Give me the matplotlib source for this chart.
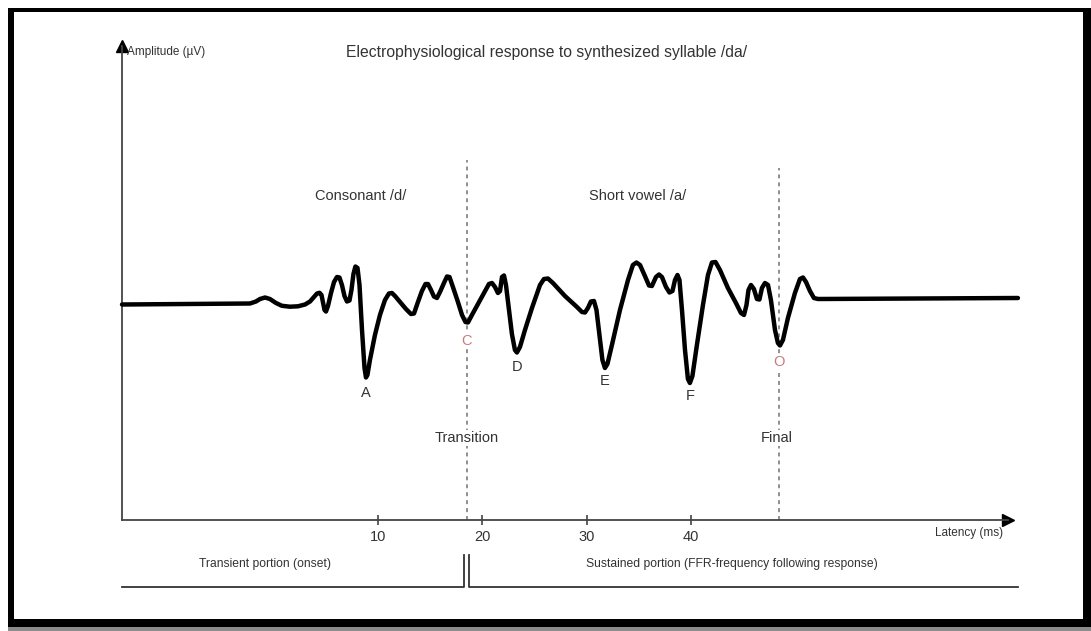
import matplotlib
matplotlib.use("Agg")
import matplotlib.pyplot as plt
from matplotlib.patches import Rectangle

plt.rcParams['font.family'] = ['Liberation Sans', 'DejaVu Sans']

# cABR waveform (latency in ms, amplitude in arbitrary uV)
latency = [-14.51, -2.25, -1.68, -1.29, -0.81, -0.34, 0.24, 0.81, 1.58, 2.35,
           3.02, 3.50, 3.88, 4.17, 4.41, 4.60, 4.74, 4.89, 5.03, 5.22,
           5.51, 5.80, 6.08, 6.32, 6.56, 6.80, 7.04, 7.28, 7.47, 7.66,
           7.85, 8.05, 8.24, 8.48, 8.72, 8.86, 9.00, 9.24, 9.72, 10.20,
           10.68, 11.06, 11.35, 11.64, 12.12, 12.69, 13.17, 13.46, 13.84, 14.22,
           14.56, 14.80, 15.09, 15.37, 15.66, 15.95, 16.33, 16.62, 16.86, 17.19,
           17.67, 18.06, 18.39, 18.63, 19.01, 19.59, 20.16, 20.64, 20.93, 21.22,
           21.50, 21.70, 21.89, 22.08, 22.27, 22.56, 22.84, 23.13, 23.32, 23.61,
           24.09, 24.76, 25.53, 25.91, 26.29, 26.77, 27.92, 29.07, 29.55, 29.84,
           30.12, 30.41, 30.70, 30.94, 31.23, 31.51, 31.75, 31.99, 32.42, 33.19,
           33.96, 34.43, 34.77, 35.11, 35.58, 35.97, 36.25, 36.64, 36.93, 37.21,
           37.60, 37.93, 38.22, 38.46, 38.70, 38.89, 39.13, 39.42, 39.70, 39.89,
           40.13, 40.56, 41.14, 41.62, 42.00, 42.34, 42.77, 43.53, 44.30, 44.78,
           45.07, 45.31, 45.50, 45.74, 46.02, 46.31, 46.55, 46.79, 47.08, 47.37,
           47.65, 48.04, 48.32, 48.52, 48.80, 49.28, 49.95, 50.43, 50.72, 51.01,
           51.39, 51.77, 52.16, 71.31]
amplitude = [-0.15, -0.05, 0.15, 0.40, 0.55, 0.40, 0.00, -0.28, -0.37, -0.33,
             -0.15, 0.15, 0.60, 0.95, 1.02, 0.80, 0.10, -0.70, -0.85, -0.30,
             1.00, 2.10, 2.60, 2.55, 1.80, 0.70, 0.15, 0.25, 1.30, 2.90,
             3.65, 3.50, 1.80, -2.70, -6.50, -7.45, -7.20, -5.70, -3.20, -1.20,
             0.30, 0.95, 1.00, 0.70, 0.10, -0.60, -1.10, -1.05, 0.10, 1.20,
             1.90, 1.90, 1.30, 0.65, 0.50, 1.10, 2.00, 2.65, 2.60, 1.60,
             0.10, -1.20, -1.90, -1.95, -1.20, -0.10, 1.00, 1.90, 2.00, 1.60,
             1.00, 1.20, 2.60, 2.75, 1.80, -0.70, -3.10, -4.70, -4.95, -4.40,
             -2.70, -0.50, 1.80, 2.40, 2.45, 2.00, 0.70, -0.40, -0.90, -0.95,
             -0.50, 0.15, 0.20, -0.70, -3.20, -5.70, -6.50, -6.10, -4.20, -0.70,
             2.30, 3.80, 4.05, 3.80, 2.70, 1.75, 1.70, 2.60, 2.85, 2.60,
             1.60, 1.05, 1.20, 2.30, 2.80, 2.30, -0.70, -4.70, -7.60, -8.00,
             -7.30, -4.20, -0.20, 2.80, 4.05, 4.10, 3.30, 1.50, 0.00, -1.00,
             -1.20, -0.20, 1.30, 1.80, 1.40, 0.40, 0.35, 1.50, 2.00, 1.80,
             0.30, -2.70, -4.00, -4.25, -3.70, -1.50, 1.00, 2.40, 2.55, 2.10,
             1.20, 0.50, 0.40, 0.50]

# labelled waves
wave_names = ['A', 'C', 'D', 'E', 'F', 'O']
wave_latency = [8.86, 18.51, 23.32, 31.75, 39.89, 48.42]
wave_colors = ['#333333', '#c87a7a', '#333333', '#333333', '#333333', '#c87a7a']
wave_drop = [11.2, 13.3, 10.4, 9.4, 9.4, 14]   # label offset below the trough (points)

xticks = [10, 20, 30, 40]
boundaries = [18.51, 48.42]   # onset -> transition, vowel -> offset
split = 18.5                  # transient / sustained split

W, H = 1091, 631
fig = plt.figure(figsize=(W / 100, H / 100), dpi=100)

# black picture frame with grey shadow
fig.patches.append(Rectangle((8 / W, 0), (W - 8) / W, 4 / H, transform=fig.transFigure,
                             facecolor='#8c8c8c', edgecolor='none', zorder=-3))
fig.patches.append(Rectangle((8 / W, 1 - 627 / H), (W - 8) / W, (627 - 8) / H,
                             transform=fig.transFigure, facecolor='black',
                             edgecolor='none', zorder=-2))
fig.patches.append(Rectangle((14 / W, 1 - 619 / H), (1083 - 14) / W, (619 - 12) / H,
                             transform=fig.transFigure, facecolor='white',
                             edgecolor='none', zorder=-1))

ax = fig.add_axes([122 / W, 1 - 520 / H, (1008 - 122) / W, (520 - 46) / H])
ax.patch.set_alpha(0)
ax.set_xlim(-14.51, 70.36)
ax.set_ylim(-21.7, 25.7)

for s in ['top', 'right']:
    ax.spines[s].set_visible(False)
for s in ['left', 'bottom']:
    ax.spines[s].set_color('#444444')
    ax.spines[s].set_linewidth(1.3)

ax.plot(1, 0, marker='>', ms=8, color='black', transform=ax.transAxes, clip_on=False)
ax.plot(0, 1, marker='^', ms=8, color='black', transform=ax.transAxes, clip_on=False)

ax.set_yticks([])
ax.set_xticks(xticks)
ax.tick_params(axis='x', direction='inout', length=7, width=1.2, color='#444444',
               pad=4, labelsize=10.5, labelcolor='#333333')

# section boundaries
for b in boundaries:
    top = 14.3 if b < 30 else 13.5
    ax.plot([b, b], [-21.7, top], color='#888888', lw=1.3, ls=(0, (2.2, 2.2)), zorder=1)

ax.plot(latency, amplitude, color='black', lw=3.2, solid_joinstyle='round',
        solid_capstyle='round', clip_on=False, zorder=3)

for name, lat, col, drop in zip(wave_names, wave_latency, wave_colors, wave_drop):
    i = min(range(len(latency)), key=lambda k: abs(latency[k] - lat))
    ax.annotate(name, (lat, amplitude[i]), xytext=(0, -drop), textcoords='offset points',
                ha='center', va='center', fontsize=10.5, color=col, zorder=4,
                bbox=dict(facecolor='white', edgecolor='none', pad=0.5))

txt = dict(ha='center', va='center', fontsize=10.5, color='#333333')
ax.text(8.4, 10.7, 'Consonant /d/', **txt)
ax.text(34.9, 10.7, 'Short vowel /a/', **txt)
ax.text(boundaries[0], -13.5, 'Transition', zorder=4,
        bbox=dict(facecolor='white', edgecolor='none', pad=1), **txt)
ax.text(boundaries[1] - 0.2, -13.5, 'Final', zorder=4,
        bbox=dict(facecolor='white', edgecolor='none', pad=1), **txt)

# transient / sustained brackets under the axis
ax.plot([-14.51, split - 0.24, split - 0.24], [-28.4, -28.4, -25.2],
        color='#333333', lw=1.3, clip_on=False)
ax.plot([split + 0.24, split + 0.24, 71.3], [-25.2, -28.4, -28.4],
        color='#333333', lw=1.3, clip_on=False)

fig.text(547 / W, 1 - 52 / H, 'Electrophysiological response to synthesized syllable /da/',
         ha='center', va='center', fontsize=11.3, color='#333333')
fig.text(127 / W, 1 - 52 / H, 'Amplitude (µV)', ha='left', va='center',
         fontsize=8.5, color='#333333')
fig.text(1003 / W, 1 - 533 / H, 'Latency (ms)', ha='right', va='center',
         fontsize=8.5, color='#333333')
fig.text(265 / W, 1 - 564 / H, 'Transient portion (onset)', ha='center', va='center',
         fontsize=8.7, color='#333333')
fig.text(732 / W, 1 - 564 / H, 'Sustained portion (FFR-frequency following response)',
         ha='center', va='center', fontsize=8.7, color='#333333')

fig.savefig('out.png', dpi=100)
